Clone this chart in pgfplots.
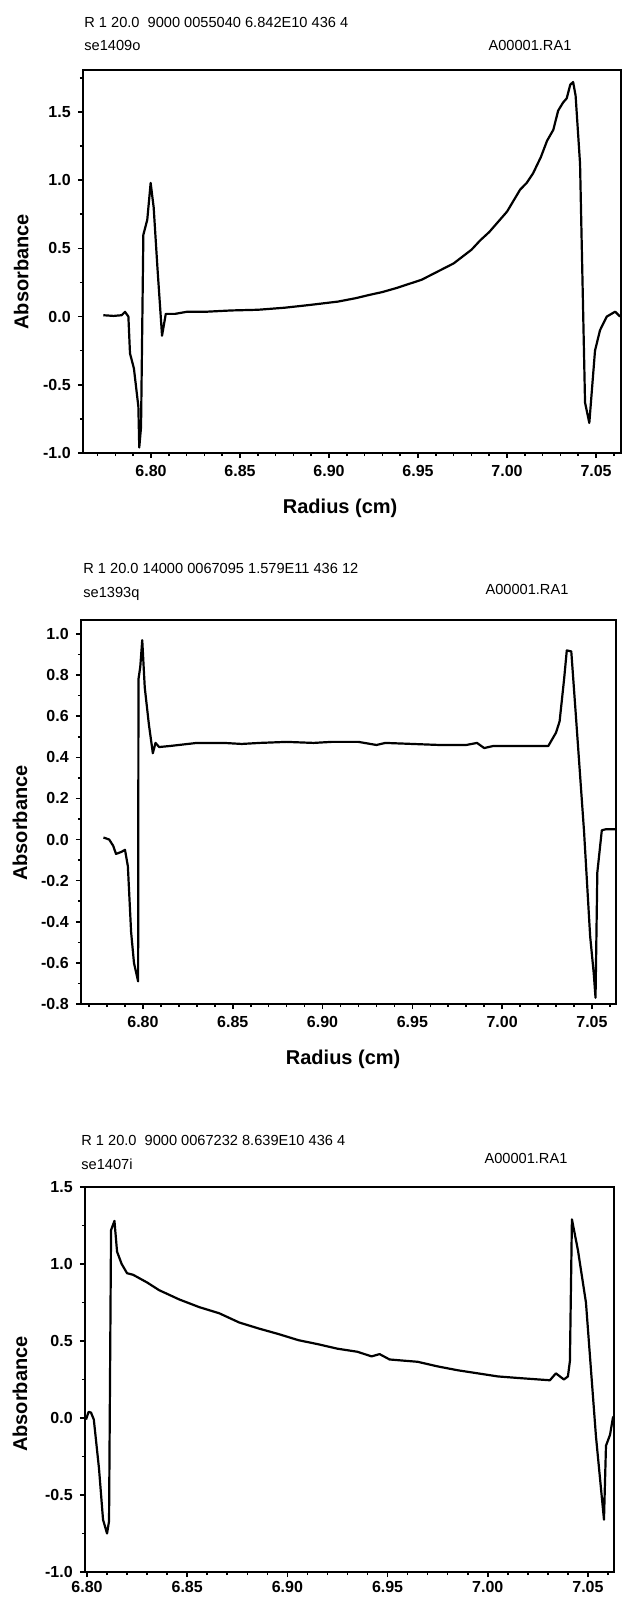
\documentclass[border=0pt]{standalone}
\usepackage{fontspec}
\setmainfont{Liberation Sans}
\usepackage{pgfplots}
\pgfplotsset{compat=1.18}

% shared look of the three scans
\pgfplotsset{
  scan/.style={
    scale only axis,
    anchor=south west,
    axis line style={line width=1pt},
    tick align=outside,
    xtick pos=left, ytick pos=left,
    major tick length=2.6pt, minor tick length=1.6pt,
    every tick/.style={black, line width=0.8pt},
    xtick={6.80,6.85,6.90,6.95,7.00,7.05},
    minor xtick={6.76,6.77,6.78,6.79,6.81,6.82,6.83,6.84,6.86,6.87,6.88,6.89,6.91,6.92,6.93,6.94,6.96,6.97,6.98,6.99,7.01,7.02,7.03,7.04,7.06},
    ticklabel style={font=\bfseries\fontsize{8}{9}\selectfont},
    xticklabel style={/pgf/number format/fixed, /pgf/number format/fixed zerofill,
      /pgf/number format/precision=2, /pgf/number format/assume math mode=true},
    yticklabel style={/pgf/number format/fixed, /pgf/number format/fixed zerofill,
      /pgf/number format/precision=1, /pgf/number format/assume math mode=true},
    label style={font=\bfseries\fontsize{10}{12}\selectfont},
    cycle list={black},
    every axis plot/.append style={line width=1.1pt, line join=round, no markers},
  },
}
\tikzset{hdr/.style={font=\fontsize{7.3}{9}\selectfont, inner sep=0pt}}

\begin{document}
\begin{tikzpicture}
\useasboundingbox (0,0) rectangle (311.5pt,798.5pt);

% ---------- panel 1 ----------
\node[hdr, anchor=west] at (42pt,787.5pt) {R 1 20.0\ \ 9000 0055040 6.842E10 436 4};
\node[hdr, anchor=west] at (42pt,776pt) {se1409o};
\node[hdr] at (265pt,776pt) {A00001.RA1};
\begin{axis}[scan,
  at={(41.5pt,572pt)}, width=269pt, height=191.5pt,
  xmin=6.7618, xmax=7.064, ymin=-1.0, ymax=1.808,
  ytick={-1,-0.5,0,0.5,1,1.5},
  minor ytick={-0.75,-0.25,0.25,0.75,1.25,1.75},
  xlabel={Radius (cm)}, ylabel={Absorbance},
  xlabel style={at={(axis description cs:0.478,0)}, anchor=center, yshift=-27.5pt},
  ylabel style={at={(axis description cs:-0.115,0.473)}, anchor=center, rotate=0},
]
\addplot coordinates {
(6.7732,0.01) (6.7790,0.005) (6.7835,0.01) (6.7854,0.035) (6.7873,0.0)
(6.7882,-0.27) (6.7904,-0.38) (6.7929,-0.66) (6.7934,-0.96) (6.7944,-0.81)
(6.7957,0.60) (6.7979,0.71) (6.7998,0.98) (6.8015,0.80) (6.8036,0.36)
(6.8062,-0.14) (6.8083,0.02) (6.8135,0.02) (6.8200,0.035) (6.8300,0.035)
(6.8450,0.045) (6.8600,0.05) (6.8750,0.065) (6.8890,0.085) (6.9050,0.11)
(6.9150,0.135) (6.9230,0.16) (6.9300,0.18) (6.9380,0.21) (6.9450,0.24)
(6.9520,0.27) (6.9580,0.31) (6.9640,0.35) (6.9700,0.39) (6.9750,0.44)
(6.9800,0.49) (6.9850,0.56) (6.9900,0.62) (6.9960,0.71) (7.0000,0.77)
(7.0073,0.93) (7.0110,0.98) (7.0146,1.05) (7.0190,1.17) (7.0225,1.29)
(7.0260,1.37) (7.0287,1.51) (7.0315,1.57) (7.0335,1.60) (7.0355,1.70)
(7.0371,1.72) (7.0385,1.62) (7.0410,1.12) (7.0438,-0.63) (7.0462,-0.78)
(7.0494,-0.25) (7.0522,-0.10) (7.0560,0.0) (7.0607,0.036) (7.0635,0.0)
};
\end{axis}

% ---------- panel 2 ----------
\node[hdr, anchor=west] at (41.5pt,514.5pt) {R 1 20.0 14000 0067095 1.579E11 436 12};
\node[hdr, anchor=west] at (41.5pt,501.5pt) {se1393q};
\node[hdr] at (263.5pt,504pt) {A00001.RA1};
\begin{axis}[scan,
  at={(40.5pt,296.5pt)}, width=267.5pt, height=192pt,
  xmin=6.7655, xmax=7.0634, ymin=-0.8, ymax=1.068,
  ytick={-0.8,-0.6,-0.4,-0.2,0,0.2,0.4,0.6,0.8,1.0},
  minor ytick={-0.7,-0.5,-0.3,-0.1,0.1,0.3,0.5,0.7,0.9},
  xlabel={Radius (cm)}, ylabel={Absorbance},
  xlabel style={at={(axis description cs:0.49,0)}, anchor=center, yshift=-27.5pt},
  ylabel style={at={(axis description cs:-0.114,0.471)}, anchor=center, rotate=0},
]
\addplot coordinates {
(6.7780,0.01) (6.7812,0.0) (6.7834,-0.03) (6.7850,-0.07) (6.7880,-0.06)
(6.7900,-0.05) (6.7916,-0.13) (6.7934,-0.45) (6.7950,-0.60) (6.7973,-0.69)
(6.7975,0.78) (6.7985,0.84) (6.7996,0.97) (6.8010,0.74) (6.8033,0.56)
(6.8055,0.42) (6.8070,0.47) (6.8090,0.45) (6.8150,0.455) (6.8200,0.46)
(6.8300,0.47) (6.8450,0.47) (6.8550,0.465) (6.8650,0.47) (6.8800,0.475)
(6.8950,0.47) (6.9050,0.475) (6.9200,0.475) (6.9300,0.46) (6.9350,0.47)
(6.9500,0.465) (6.9650,0.46) (6.9800,0.46) (6.9860,0.47) (6.9900,0.445)
(6.9950,0.455) (7.0100,0.455) (7.0257,0.455) (7.0300,0.52) (7.0320,0.575)
(7.0345,0.78) (7.0360,0.92) (7.0385,0.915) (7.0410,0.61) (7.0456,0.04)
(7.0490,-0.47) (7.0510,-0.65) (7.0520,-0.77) (7.0530,-0.16) (7.0555,0.045)
(7.0577,0.05) (7.0634,0.05)
};
\end{axis}

% ---------- panel 3 ----------
\node[hdr, anchor=west] at (40.5pt,228.5pt) {R 1 20.0\ \ 9000 0067232 8.639E10 436 4};
\node[hdr, anchor=west] at (40.5pt,216.5pt) {se1407i};
\node[hdr] at (263pt,219.5pt) {A00001.RA1};
\begin{axis}[scan,
  at={(42.5pt,12.5pt)}, width=264.5pt, height=192.5pt,
  xmin=6.799, xmax=7.063, ymin=-1.0, ymax=1.5,
  ytick={-1,-0.5,0,0.5,1,1.5},
  minor ytick={-0.75,-0.25,0.25,0.75,1.25},
  xticklabel style={yshift=1.5pt},
  ylabel={Absorbance},
  ylabel style={at={(axis description cs:-0.123,0.462)}, anchor=center, rotate=0},
]
\addplot coordinates {
(6.7995,-0.01) (6.8008,0.04) (6.8020,0.035) (6.8034,-0.01) (6.8060,-0.33)
(6.8080,-0.66) (6.8100,-0.75) (6.8110,-0.67) (6.8120,1.22) (6.8137,1.28)
(6.8150,1.08) (6.8173,1.00) (6.8200,0.94) (6.8230,0.93) (6.8300,0.88)
(6.8360,0.83) (6.8460,0.77) (6.8560,0.72) (6.8660,0.68) (6.8760,0.62)
(6.8860,0.58) (6.8956,0.545) (6.9056,0.505) (6.9150,0.48) (6.9250,0.45)
(6.9350,0.43) (6.9420,0.40) (6.9460,0.415) (6.9510,0.38) (6.9650,0.365)
(6.9750,0.335) (6.9850,0.31) (6.9950,0.29) (7.0050,0.27) (7.0150,0.26)
(7.0310,0.245) (7.0340,0.29) (7.0380,0.25) (7.0400,0.27) (7.0410,0.37)
(7.0420,1.29) (7.0435,1.19) (7.0450,1.09) (7.0490,0.75) (7.0540,-0.12)
(7.0580,-0.66) (7.0590,-0.18) (7.0610,-0.11) (7.0625,0.005) (7.0640,0.015)
};
\end{axis}
\end{tikzpicture}
\end{document}
